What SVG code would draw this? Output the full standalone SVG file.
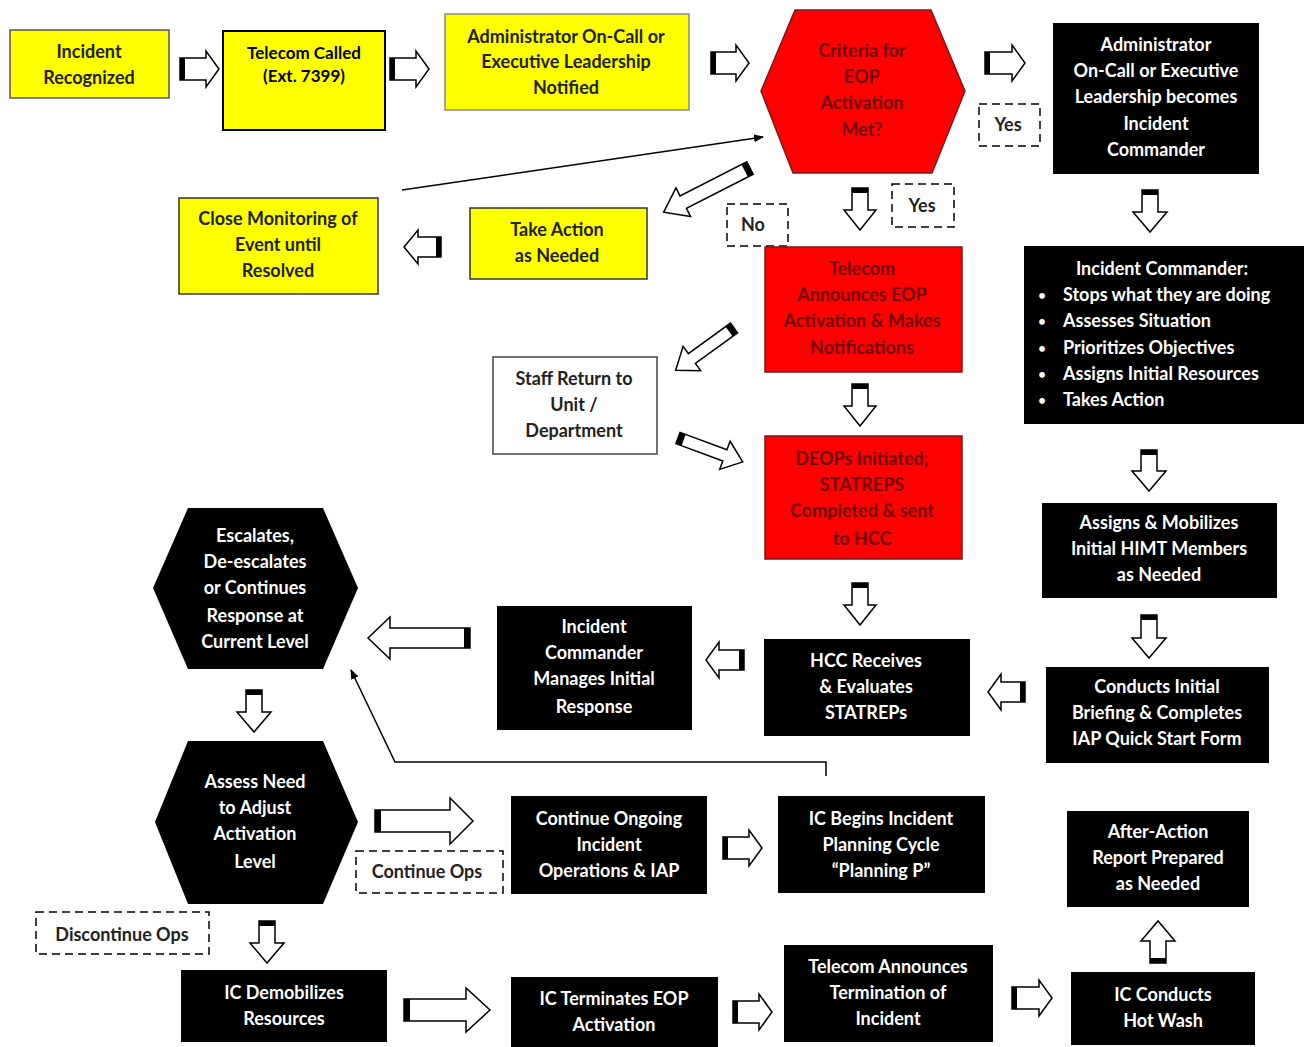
<svg xmlns="http://www.w3.org/2000/svg" width="1304" height="1047" viewBox="0 0 1304 1047">
<style>
.y{fill:#ffff00;stroke:#555;stroke-width:1.5}
.yk{fill:#ffff00;stroke:#000;stroke-width:2}
.r{fill:#ff0000;stroke:#7a1a1a;stroke-width:1.5}
.k{fill:#000}
.w{fill:#fff;stroke:#444;stroke-width:1.5}
.d{fill:none;stroke:#000;stroke-width:1.5;stroke-dasharray:8 5}
text{font-family:Lato,"Open Sans","Liberation Sans",sans-serif;font-weight:bold;font-size:18px;text-anchor:middle}
.tk{fill:#222}
.tr{fill:#6e0000}
.tw{fill:#fff}
.ts{text-anchor:start}
.bu{font-size:13px}
.ar{fill:#fff;stroke:#000;stroke-width:1.5;stroke-linejoin:miter}
.cap{fill:#000}
.ln{fill:none;stroke:#000;stroke-width:1.5}
</style>
<defs>
<marker id="ah" viewBox="0 0 10 8" refX="9" refY="4" markerWidth="10" markerHeight="8" markerUnits="userSpaceOnUse" orient="auto">
<path d="M0,0 L10,4 L0,8 Z" fill="#000"/>
</marker>
</defs>
<rect width="1304" height="1047" fill="#fff"/>

<g id="connectors">
<polygon class="ar" points="180,58 206,58 206,51 219,69 206,87 206,80 180,80"/><rect class="cap" x="180" y="58" width="5" height="22"/>
<polygon class="ar" points="390,58 416,58 416,51 429,69 416,87 416,80 390,80"/><rect class="cap" x="390" y="58" width="5" height="22"/>
<polygon class="ar" points="711,52 736,52 736,45 749,63 736,81 736,74 711,74"/><rect class="cap" x="711" y="52" width="5" height="22"/>
<polygon class="ar" points="985,52 1012,52 1012,45 1025,63 1012,81 1012,74 985,74"/><rect class="cap" x="985" y="52" width="5" height="22"/>
<polygon class="ar" points="723,837 749,837 749,830 762,848 749,866 749,859 723,859"/><rect class="cap" x="723" y="837" width="5" height="22"/>
<polygon class="ar" points="733,1001 759,1001 759,994 772,1012 759,1030 759,1023 733,1023"/><rect class="cap" x="733" y="1001" width="5" height="22"/>
<polygon class="ar" points="1012,987 1039,987 1039,980 1052,998 1039,1016 1039,1009 1012,1009"/><rect class="cap" x="1012" y="987" width="5" height="22"/>
<polygon class="ar" points="375,810 450,810 450,798 473,821 450,844 450,832 375,832"/><rect class="cap" x="375" y="810" width="6" height="22"/>
<polygon class="ar" points="404,999 466,999 466,988 490,1010 466,1032 466,1021 404,1021"/><rect class="cap" x="404" y="999" width="6" height="22"/>
<polygon class="ar" points="441,237 418,237 418,230 404,247 418,264 418,257 441,257"/><rect class="cap" x="436" y="237" width="5" height="20"/>
<polygon class="ar" points="1025,682 1001,682 1001,674 988,692 1001,710 1001,702 1025,702"/><rect class="cap" x="1020" y="682" width="5" height="20"/>
<polygon class="ar" points="744,650 719,650 719,642 706,660 719,678 719,670 744,670"/><rect class="cap" x="739" y="650" width="5" height="20"/>
<polygon class="ar" points="470,628 390,628 390,617 368,638 390,659 390,648 470,648"/><rect class="cap" x="464" y="628" width="6" height="20"/>
<polygon class="ar" points="1142,190 1158,190 1158,212 1167,212 1150,232 1133,212 1142,212"/><rect class="cap" x="1142" y="190" width="16" height="5"/>
<polygon class="ar" points="852,188 868,188 868,210 876,210 860,230 844,210 852,210"/><rect class="cap" x="852" y="188" width="16" height="5"/>
<polygon class="ar" points="852,384 868,384 868,406 876,406 860,426 844,406 852,406"/><rect class="cap" x="852" y="384" width="16" height="5"/>
<polygon class="ar" points="852,583 868,583 868,605 876,605 860,625 844,605 852,605"/><rect class="cap" x="852" y="583" width="16" height="5"/>
<polygon class="ar" points="1141,450 1157,450 1157,471 1166,471 1149,491 1132,471 1141,471"/><rect class="cap" x="1141" y="450" width="16" height="5"/>
<polygon class="ar" points="1141,615 1157,615 1157,638 1166,638 1149,658 1132,638 1141,638"/><rect class="cap" x="1141" y="615" width="16" height="5"/>
<polygon class="ar" points="246,690 262,690 262,712 271,712 254,732 237,712 246,712"/><rect class="cap" x="246" y="690" width="16" height="5"/>
<polygon class="ar" points="259,921 275,921 275,943 284,943 267,963 250,943 259,943"/><rect class="cap" x="259" y="921" width="16" height="5"/>
<polygon class="ar" points="1150,963 1166,963 1166,941 1175,941 1158,921 1141,941 1150,941"/><rect class="cap" x="1150" y="958" width="16" height="5"/>
<g transform="translate(750,168) rotate(152.9)"><polygon class="ar" points="0,-7 75,-7 75,-16 97,0 75,16 75,7 0,7"/><rect class="cap" x="0" y="-7" width="6" height="14"/></g>
<g transform="translate(734,328) rotate(144.1)"><polygon class="ar" points="0,-6 52,-6 52,-15 72,0 52,15 52,6 0,6"/><rect class="cap" x="0" y="-6" width="6" height="12"/></g>
<g transform="translate(678,438) rotate(20.3)"><polygon class="ar" points="0,-6 50,-6 50,-15 69,0 50,15 50,6 0,6"/><rect class="cap" x="0" y="-6" width="6" height="12"/></g>
<line class="ln" x1="402" y1="190" x2="763" y2="137" marker-end="url(#ah)"/>
<polyline class="ln" points="826,776 826,762 395,762 351,670" marker-end="url(#ah)"/>
</g>

<g id="n-incident-recognized"><rect class="y" x="10" y="30" width="159" height="68"/><text class="tk" x="89" y="58">Incident</text><text class="tk" x="89" y="84">Recognized</text></g>
<g id="n-telecom-called"><rect class="yk" x="223" y="31" width="162" height="99"/><text class="tk" x="304" y="59" style="font-size:17px;fill:#000">Telecom Called</text><text class="tk" x="304" y="82" style="font-size:17px;fill:#000">(Ext. 7399)</text></g>
<g id="n-admin-notified"><rect class="y" x="445" y="14" width="244" height="96" style="stroke:#888"/><text class="tk" x="566" y="43">Administrator On-Call or</text><text class="tk" x="566" y="68">Executive Leadership</text><text class="tk" x="566" y="94">Notified</text></g>
<g id="n-criteria"><polygon class="r" points="795,10 931,10 965,91 932,173 793,173 761,91"/><text class="tr" x="862" y="57">Criteria for</text><text class="tr" x="862" y="83">EOP</text><text class="tr" x="862" y="109">Activation</text><text class="tr" x="862" y="136">Met?</text></g>
<g id="n-admin-ic"><rect class="k" x="1053" y="23" width="206" height="151"/><text class="tw" x="1156" y="51">Administrator</text><text class="tw" x="1156" y="77">On-Call or Executive</text><text class="tw" x="1156" y="103">Leadership becomes</text><text class="tw" x="1156" y="130">Incident</text><text class="tw" x="1156" y="156">Commander</text></g>
<g id="l-yes-1"><rect class="d" x="979" y="104" width="61" height="42"/><text class="tk" x="1008" y="131">Yes</text></g>
<g id="n-close-monitoring"><rect class="y" x="179" y="198" width="199" height="96" style="stroke:#333"/><text class="tk" x="278" y="225">Close Monitoring of</text><text class="tk" x="278" y="251">Event until</text><text class="tk" x="278" y="277">Resolved</text></g>
<g id="n-take-action"><rect class="y" x="470" y="208" width="177" height="71" style="stroke:#333"/><text class="tk" x="557" y="236">Take Action</text><text class="tk" x="557" y="262">as Needed</text></g>
<g id="l-no"><rect class="d" x="727" y="204" width="61" height="42"/><text class="tk" x="753" y="231">No</text></g>
<g id="l-yes-2"><rect class="d" x="892" y="184" width="62" height="43"/><text class="tk" x="922" y="212">Yes</text></g>
<g id="n-telecom-announces"><rect class="r" x="765" y="247" width="197" height="125"/><text class="tr" x="862" y="275">Telecom</text><text class="tr" x="862" y="301">Announces EOP</text><text class="tr" x="862" y="327">Activation &amp; Makes</text><text class="tr" x="862" y="354">Notifications</text></g>
<g id="n-staff-return"><rect class="w" x="493" y="357" width="164" height="97"/><text class="tk" x="574" y="385">Staff Return to</text><text class="tk" x="574" y="411">Unit /</text><text class="tk" x="574" y="437">Department</text></g>
<g id="n-deops"><rect class="r" x="765" y="436" width="197" height="123"/><text class="tr" x="862" y="465">DEOPs Initiated;</text><text class="tr" x="862" y="491">STATREPS</text><text class="tr" x="862" y="517">Completed &amp; sent</text><text class="tr" x="862" y="545">to HCC</text></g>
<g id="n-ic-list"><rect class="k" x="1024" y="246" width="280" height="178"/><text class="tw" x="1162" y="275">Incident Commander:</text>
<text class="tw bu" x="1042" y="300">•</text><text class="tw ts" x="1063" y="301">Stops what they are doing</text>
<text class="tw bu" x="1042" y="326">•</text><text class="tw ts" x="1063" y="327">Assesses Situation</text>
<text class="tw bu" x="1042" y="353">•</text><text class="tw ts" x="1063" y="354">Prioritizes Objectives</text>
<text class="tw bu" x="1042" y="379">•</text><text class="tw ts" x="1063" y="380">Assigns Initial Resources</text>
<text class="tw bu" x="1042" y="405">•</text><text class="tw ts" x="1063" y="406">Takes Action</text></g>
<g id="n-assigns"><rect class="k" x="1042" y="503" width="235" height="95"/><text class="tw" x="1159" y="529">Assigns &amp; Mobilizes</text><text class="tw" x="1159" y="555">Initial HIMT Members</text><text class="tw" x="1159" y="581">as Needed</text></g>
<g id="n-conducts"><rect class="k" x="1046" y="667" width="223" height="96"/><text class="tw" x="1157" y="693">Conducts Initial</text><text class="tw" x="1157" y="719">Briefing &amp; Completes</text><text class="tw" x="1157" y="745">IAP Quick Start Form</text></g>
<g id="n-hcc"><rect class="k" x="764" y="639" width="206" height="97"/><text class="tw" x="866" y="667">HCC Receives</text><text class="tw" x="866" y="693">&amp; Evaluates</text><text class="tw" x="866" y="719">STATREPs</text></g>
<g id="n-ic-manages"><rect class="k" x="497" y="606" width="195" height="124"/><text class="tw" x="594" y="633">Incident</text><text class="tw" x="594" y="659">Commander</text><text class="tw" x="594" y="685">Manages Initial</text><text class="tw" x="594" y="713">Response</text></g>
<g id="n-escalates"><polygon class="k" points="188,508 323,508 358,588 323,669 188,669 153,588"/><text class="tw" x="255" y="542">Escalates,</text><text class="tw" x="255" y="568">De-escalates</text><text class="tw" x="255" y="594">or Continues</text><text class="tw" x="255" y="622">Response at</text><text class="tw" x="255" y="648">Current Level</text></g>
<g id="n-assess"><polygon class="k" points="188,741 323,741 358,822 323,904 188,904 155,822"/><text class="tw" x="255" y="788">Assess Need</text><text class="tw" x="255" y="814">to Adjust</text><text class="tw" x="255" y="840">Activation</text><text class="tw" x="255" y="868">Level</text></g>
<g id="l-continue-ops"><rect class="d" x="356" y="851" width="147" height="42"/><text class="tk" x="427" y="878">Continue Ops</text></g>
<g id="n-continue-ongoing"><rect class="k" x="511" y="796" width="196" height="98"/><text class="tw" x="609" y="825">Continue Ongoing</text><text class="tw" x="609" y="851">Incident</text><text class="tw" x="609" y="877">Operations &amp; IAP</text></g>
<g id="n-ic-begins"><rect class="k" x="778" y="796" width="207" height="97"/><text class="tw" x="881" y="825">IC Begins Incident</text><text class="tw" x="881" y="851">Planning Cycle</text><text class="tw" x="881" y="877">“Planning P”</text></g>
<g id="n-after-action"><rect class="k" x="1067" y="811" width="182" height="96"/><text class="tw" x="1158" y="838">After-Action</text><text class="tw" x="1158" y="864">Report Prepared</text><text class="tw" x="1158" y="890">as Needed</text></g>
<g id="l-discontinue-ops"><rect class="d" x="36" y="912" width="173" height="42"/><text class="tk" x="122" y="941">Discontinue Ops</text></g>
<g id="n-ic-demobilizes"><rect class="k" x="181" y="970" width="206" height="72"/><text class="tw" x="284" y="999">IC Demobilizes</text><text class="tw" x="284" y="1025">Resources</text></g>
<g id="n-ic-terminates"><rect class="k" x="511" y="977" width="207" height="70"/><text class="tw" x="614" y="1005">IC Terminates EOP</text><text class="tw" x="614" y="1031">Activation</text></g>
<g id="n-telecom-termination"><rect class="k" x="784" y="945" width="209" height="97"/><text class="tw" x="888" y="973">Telecom Announces</text><text class="tw" x="888" y="999">Termination of</text><text class="tw" x="888" y="1025">Incident</text></g>
<g id="n-hot-wash"><rect class="k" x="1071" y="972" width="184" height="73"/><text class="tw" x="1163" y="1001">IC Conducts</text><text class="tw" x="1163" y="1027">Hot Wash</text></g>
</svg>
